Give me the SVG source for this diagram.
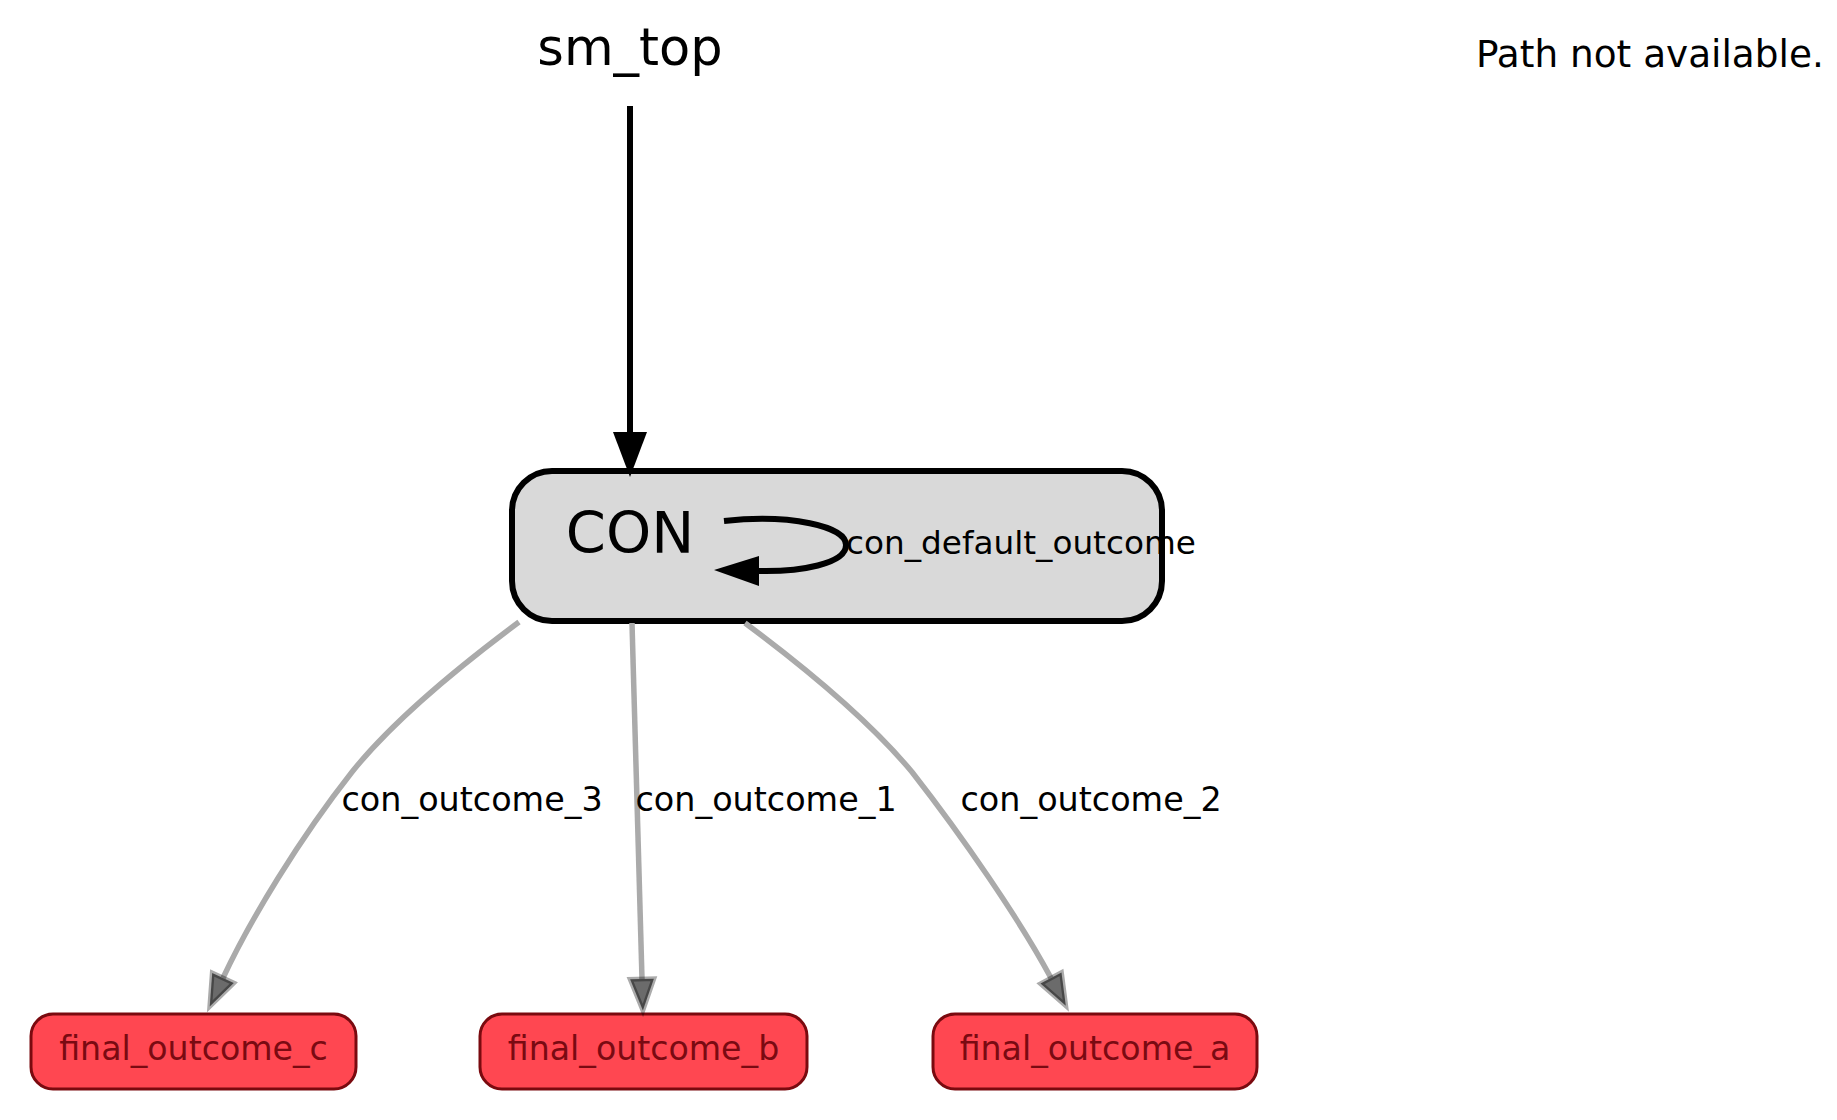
<svg xmlns="http://www.w3.org/2000/svg" width="1837" height="1120" viewBox="0 0 1837 1120">
<style>
text{font-family:"DejaVu Sans","Liberation Sans",sans-serif;fill:#000}
.lbl{font-size:33.4px}
.fin rect{fill:#ff4751;stroke:#7a0a0f;stroke-width:3}
.fin text{font-size:33.2px;fill:#7a0a12;text-anchor:middle}
.edge{fill:none;stroke:#aaaaaa;stroke-width:5.5}
</style>
<defs>
<marker id="gArrow" markerUnits="userSpaceOnUse" markerWidth="40" markerHeight="34" viewBox="-3 -17 42 34" refX="0" refY="0" orient="auto" overflow="visible">
<path d="M0,-12.5 L33,0 L0,12.5 Z" fill="#6b6b6b" stroke="#000000" stroke-opacity="0.33" stroke-width="5" stroke-linejoin="miter"/>
</marker>
</defs>
<rect width="1837" height="1120" fill="#ffffff"/>
<g id="title">
<text x="630" y="65" font-size="51" text-anchor="middle">sm_top</text>
</g>
<g id="path_info">
<text x="1476" y="67" font-size="37.4">Path not available.</text>
</g>
<g id="CON">
<rect x="512" y="471" width="650" height="150" rx="40" ry="40" fill="#d9d9d9" stroke="#000" stroke-width="6"/>
<text x="630" y="553" font-size="57.5" text-anchor="middle">CON</text>
</g>
<g id="final_outcome_c" class="fin">
<rect x="31" y="1014" width="325" height="75" rx="22" ry="22"/>
<text x="193.5" y="1060">final_outcome_c</text>
</g>
<g id="final_outcome_b" class="fin">
<rect x="480" y="1014" width="327" height="75" rx="22" ry="22"/>
<text x="643.5" y="1060">final_outcome_b</text>
</g>
<g id="final_outcome_a" class="fin">
<rect x="933" y="1014" width="324" height="75" rx="22" ry="22"/>
<text x="1095" y="1060">final_outcome_a</text>
</g>
<g id="connectors">
<line x1="630" y1="106" x2="630" y2="436" stroke="#000" stroke-width="6"/>
<polygon points="613,432 647,432 630,477" fill="#000"/>
<path d="M724,521 C790,514 846,526 846,545 C846,564 800,572 758,571" fill="none" stroke="#000" stroke-width="6"/>
<polygon points="759,556 714,570 759,586" fill="#000"/>
<text x="846" y="554" font-size="32.7">con_default_outcome</text>
<path class="edge" d="M519,622 C480,651 400,712 352,772 C300,838 250,920 223,978" marker-end="url(#gArrow)"/>
<text class="lbl" x="341.5" y="811">con_outcome_3</text>
<path class="edge" d="M632,623 L642,979" marker-end="url(#gArrow)"/>
<text class="lbl" x="635.5" y="811">con_outcome_1</text>
<path class="edge" d="M745,623 C784,652 862,712 912,772 C962,836 1020,920 1051,978" marker-end="url(#gArrow)"/>
<text class="lbl" x="960.5" y="811">con_outcome_2</text>
</g>
</svg>
